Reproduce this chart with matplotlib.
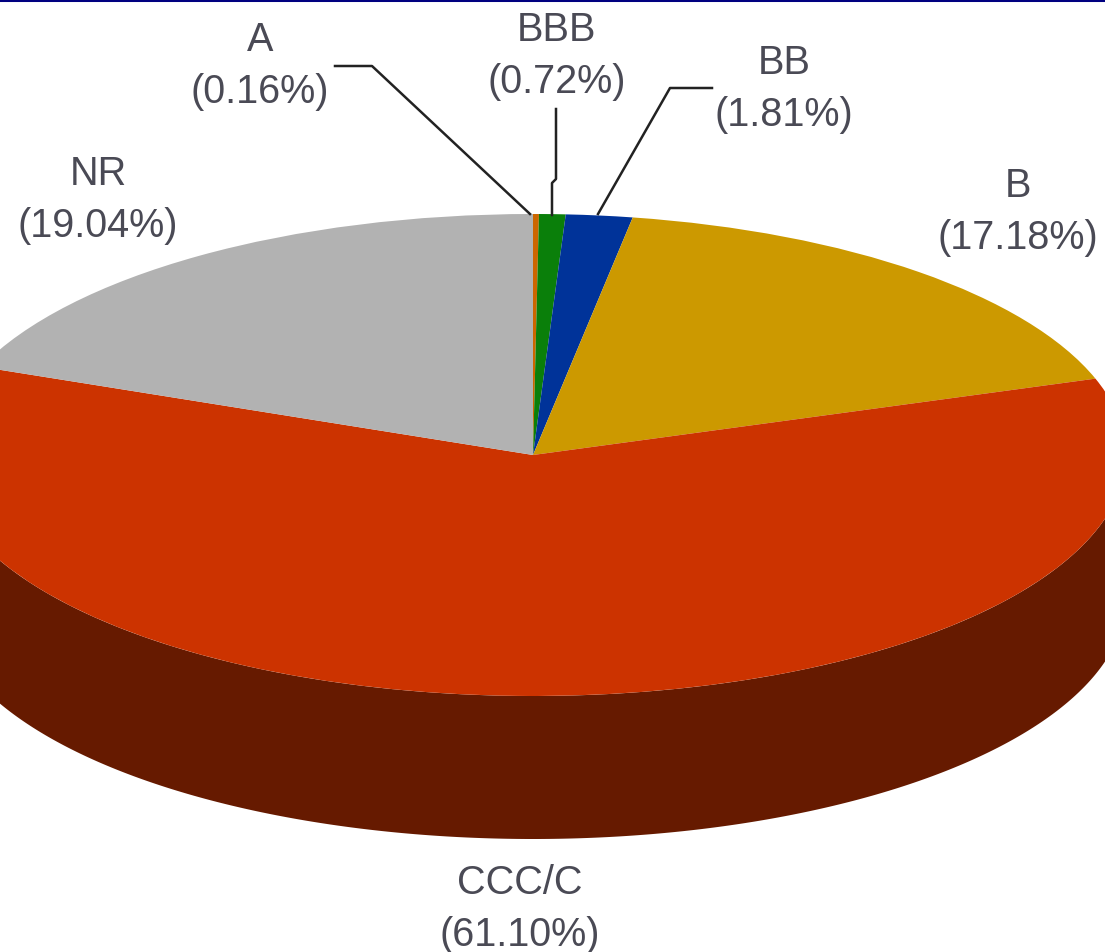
import numpy as np
import matplotlib
matplotlib.use("Agg")
import matplotlib.pyplot as plt

# rating buckets, clockwise from 12 o'clock
ratings = ["A", "BBB", "BB", "B", "CCC/C", "NR"]
shares = [0.16, 0.72, 1.81, 17.18, 61.10, 19.04]
colours = ["#CC6600", "#0A7F0A", "#003399", "#CC9900", "#CC3300", "#B2B2B2"]
side_colour = "#661A00"

# label centres in image pixels
label_x = [260, 557, 784, 1018, 520, 98]
label_y = [66, 56, 89, 212, 909, 200]

# leader lines in image pixels
leaders = [
    ([335, 372, 530], [67, 67, 215]),
    ([556, 556, 552, 552], [110, 180, 184, 216]),
    ([712, 670, 598], [89, 89, 215]),
]

W, H = 1105, 953
CX, CY = 533, 456
RX, RY = 593, 241
DEPTH = 143


def to_x(px):
    return (np.asarray(px) - CX) / RX


def to_y(py):
    return (CY - np.asarray(py)) / RY


plt.rcParams["font.family"] = ["Liberation Sans", "DejaVu Sans"]

fig = plt.figure(figsize=(W / 100, H / 100), dpi=100, facecolor="white")
ax = fig.add_axes([0, 0, 1, 1])

# side wall of the disc, then the top face
theta = np.linspace(-np.pi, 0, 400)
drop = DEPTH / RY
ax.fill_between(np.cos(theta), np.sin(theta), np.sin(theta) - drop,
                color=side_colour, lw=0, zorder=1)
wedges, _ = ax.pie(shares, colors=colours, startangle=90, counterclock=False,
                   radius=1, center=(0, 0), wedgeprops={"linewidth": 0, "zorder": 2})

# pie() forces an equal aspect, the squashed ellipse needs it free
ax.set_aspect("auto")
ax.set_xlim(to_x(0), to_x(W))
ax.set_ylim(to_y(H), to_y(0))
ax.set_axis_off()

for xs, ys in leaders:
    ax.plot(to_x(xs), to_y(ys), color="#222222", lw=1.8, zorder=3)

for name, val, px, py in zip(ratings, shares, label_x, label_y):
    ax.text(to_x(px), to_y(py), f"{name}\n({val:.2f}%)", ha="center", va="center",
            fontsize=28.5, color="#4A4A55", linespacing=1.45, zorder=4)

# thin navy rule along the top edge
ax.axhline(to_y(1), color="#000080", lw=2.2, zorder=5)

fig.savefig("out.png", dpi=100)
